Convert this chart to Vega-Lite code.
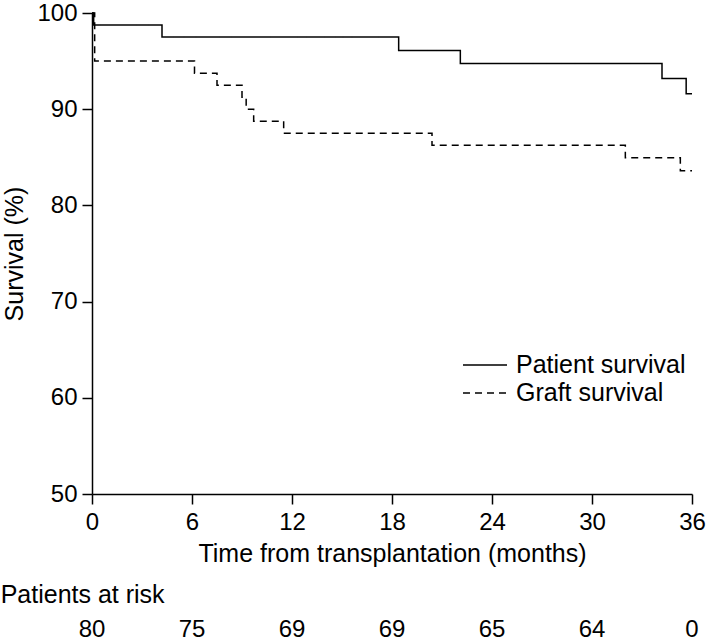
{
  "$schema": "https://vega.github.io/schema/vega-lite/v6.json",
  "background": "white",
  "padding": {"left": 0, "top": 1, "right": 0, "bottom": 0},
  "spacing": 17,
  "config": {
    "font": "Liberation Sans",
    "view": {"stroke": null},
    "axis": {
      "grid": false,
      "domainColor": "black",
      "domainWidth": 1.5,
      "tickColor": "black",
      "tickWidth": 1.5,
      "tickSize": 10,
      "labelFontSize": 24,
      "labelColor": "black",
      "labelFont": "Liberation Sans",
      "labelFlush": false,
      "labelOverlap": false,
      "titleFontSize": 25,
      "titleFontWeight": "normal",
      "titleColor": "black",
      "titleFont": "Liberation Sans"
    },
    "legend": {
      "labelFontSize": 25,
      "labelColor": "black",
      "labelFont": "Liberation Sans",
      "labelLimit": 400
    },
    "title": {"font": "Liberation Sans", "color": "black"}
  },
  "vconcat": [
    {
      "width": 600,
      "height": 481,
      "data": {
        "values": [
          {"series": "Patient survival", "time": 0, "survival": 100},
          {"series": "Patient survival", "time": 0.1, "survival": 98.75},
          {"series": "Patient survival", "time": 4.2, "survival": 97.5},
          {"series": "Patient survival", "time": 18.4, "survival": 96.1},
          {"series": "Patient survival", "time": 22.1, "survival": 94.75},
          {"series": "Patient survival", "time": 34.2, "survival": 93.2},
          {"series": "Patient survival", "time": 35.65, "survival": 91.6},
          {"series": "Patient survival", "time": 36, "survival": 91.6},
          {"series": "Graft survival", "time": 0, "survival": 100},
          {"series": "Graft survival", "time": 0.16, "survival": 95.0},
          {"series": "Graft survival", "time": 6.15, "survival": 93.75},
          {"series": "Graft survival", "time": 7.5, "survival": 92.5},
          {"series": "Graft survival", "time": 9.0, "survival": 91.25},
          {"series": "Graft survival", "time": 9.25, "survival": 90.0},
          {"series": "Graft survival", "time": 9.7, "survival": 88.75},
          {"series": "Graft survival", "time": 11.5, "survival": 87.5},
          {"series": "Graft survival", "time": 20.4, "survival": 86.25},
          {"series": "Graft survival", "time": 32.0, "survival": 84.95},
          {"series": "Graft survival", "time": 35.3, "survival": 83.6},
          {"series": "Graft survival", "time": 36, "survival": 83.6}
        ]
      },
      "mark": {"type": "line", "interpolate": "step-after", "color": "black", "strokeWidth": 1.5},
      "encoding": {
        "x": {
          "field": "time",
          "type": "quantitative",
          "scale": {"domain": [0, 36], "nice": false},
          "axis": {
            "values": [0, 6, 12, 18, 24, 30, 36],
            "title": "Time from transplantation (months)",
            "labelPadding": 6,
            "titlePadding": 7
          }
        },
        "y": {
          "field": "survival",
          "type": "quantitative",
          "scale": {"domain": [50, 100], "nice": false, "zero": false},
          "axis": {
            "values": [50, 60, 70, 80, 90, 100],
            "title": "Survival (%)",
            "labelPadding": 5,
            "titlePadding": 9
          }
        },
        "strokeDash": {
          "field": "series",
          "type": "nominal",
          "scale": {
            "domain": ["Patient survival", "Graft survival"],
            "range": [[1, 0], [7, 5]]
          },
          "legend": {
            "orient": "none",
            "legendX": 370,
            "legendY": 340,
            "title": null,
            "symbolType": "stroke",
            "symbolSize": 1936,
            "symbolStrokeWidth": 1.5,
            "symbolStrokeColor": "black",
            "labelOffset": 8,
            "clipHeight": 24,
            "rowPadding": 3
          }
        }
      }
    },
    {
      "width": 600,
      "height": 30,
      "title": {
        "text": "Patients at risk",
        "anchor": "start",
        "dx": -78,
        "fontSize": 25,
        "fontWeight": "normal",
        "offset": 7
      },
      "data": {
        "values": [
          {"time": 0, "atRisk": 80},
          {"time": 6, "atRisk": 75},
          {"time": 12, "atRisk": 69},
          {"time": 18, "atRisk": 69},
          {"time": 24, "atRisk": 65},
          {"time": 30, "atRisk": 64},
          {"time": 36, "atRisk": 0}
        ]
      },
      "mark": {"type": "text", "fontSize": 24, "color": "black", "font": "Liberation Sans"},
      "encoding": {
        "x": {
          "field": "time",
          "type": "quantitative",
          "scale": {"domain": [0, 36], "nice": false},
          "axis": null
        },
        "text": {"field": "atRisk", "type": "quantitative"}
      }
    }
  ]
}
